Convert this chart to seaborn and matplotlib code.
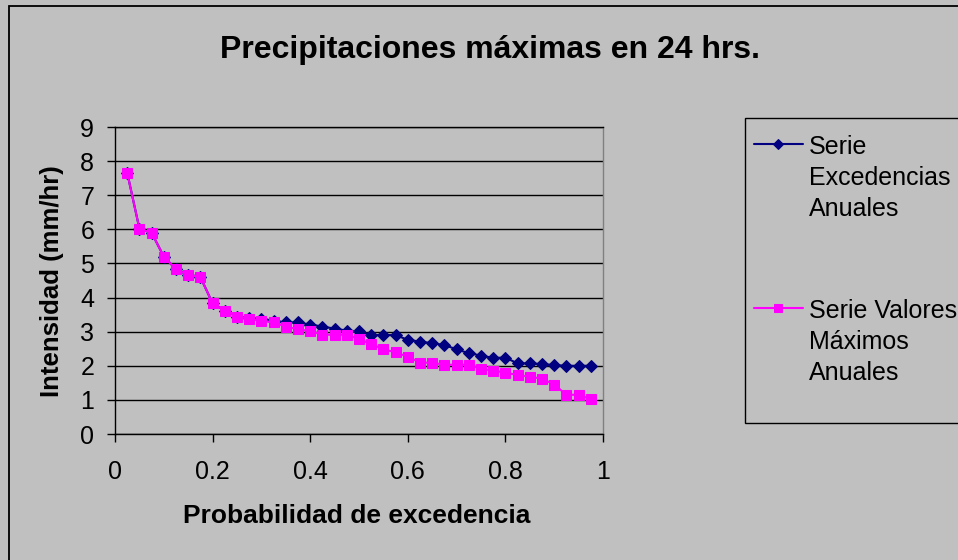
import numpy as np
import pandas as pd
import matplotlib
matplotlib.use("Agg")
import matplotlib.pyplot as plt
from matplotlib.patches import Rectangle
import seaborn as sns

# ---------------- data ----------------
prob = [0.025, 0.05, 0.075, 0.1, 0.125, 0.15, 0.175, 0.2, 0.225, 0.25,
        0.275, 0.3, 0.325, 0.35, 0.375, 0.4, 0.425, 0.45, 0.475, 0.5,
        0.525, 0.55, 0.575, 0.6, 0.625, 0.65, 0.675, 0.7, 0.725, 0.75,
        0.775, 0.8, 0.825, 0.85, 0.875, 0.9, 0.925, 0.95, 0.975]

excedencias = [7.66, 6.02, 5.90, 5.20, 4.83, 4.66, 4.60, 3.83, 3.62, 3.44,
               3.40, 3.38, 3.32, 3.27, 3.27, 3.21, 3.15, 3.09, 3.03, 3.01,
               2.90, 2.90, 2.90, 2.76, 2.71, 2.66, 2.61, 2.48, 2.37, 2.30,
               2.23, 2.24, 2.07, 2.07, 2.05, 2.02, 2.00, 2.00, 2.00]

maximos = [7.66, 6.02, 5.90, 5.20, 4.83, 4.66, 4.60, 3.83, 3.62, 3.44,
           3.38, 3.32, 3.27, 3.15, 3.07, 3.02, 2.91, 2.91, 2.91, 2.79,
           2.63, 2.49, 2.39, 2.27, 2.09, 2.09, 2.03, 2.03, 2.03, 1.91,
           1.86, 1.80, 1.73, 1.68, 1.62, 1.45, 1.15, 1.15, 1.02]

series_labels = ["Serie\nExcedencias\nAnuales", "Serie Valores\nMáximos\nAnuales"]
x_ticks = [0, 0.2, 0.4, 0.6, 0.8, 1]
x_tick_labels = ["0", "0.2", "0.4", "0.6", "0.8", "1"]
y_ticks = [0, 1, 2, 3, 4, 5, 6, 7, 8, 9]

title = "Precipitaciones máximas en 24 hrs."
xlabel = "Probabilidad de excedencia"
ylabel = "Intensidad (mm/hr)"

# ---------------- style ----------------
sns.set_style("white")
plt.rcParams["font.family"] = ["Liberation Sans", "DejaVu Sans"]
plt.rcParams["text.color"] = "black"
BG = "#C0C0C0"

W, H = 958, 560
fig = plt.figure(figsize=(W / 100, H / 100), dpi=100, facecolor=BG)

# chart-area border (extends beyond right/bottom edges like the reference)
fig.patches.append(Rectangle((9 / W, -0.2), 1.2, (H - 6) / H + 0.2,
                             transform=fig.transFigure, facecolor="none",
                             edgecolor="black", linewidth=1.3, zorder=-2))
# legend box (Excel style, clipped by the right edge)
fig.patches.append(Rectangle((745 / W, 1 - 423 / H), 0.5, (423 - 118) / H,
                             transform=fig.transFigure, facecolor=BG,
                             edgecolor="black", linewidth=1, zorder=-1))

ax = fig.add_axes([115 / W, 1 - 434 / H, (603 - 115) / W, (434 - 127) / H])
ax.set_facecolor(BG)

sns.lineplot(x=prob, y=excedencias, ax=ax, color="#000080", marker="D",
             markersize=6, markeredgecolor="#000080", linewidth=1.5,
             label=series_labels[0], zorder=3)
sns.lineplot(x=prob, y=maximos, ax=ax, color="#FF00FF", marker="s",
             markersize=6.5, markeredgecolor="#FF00FF", linewidth=1.5,
             label=series_labels[1], zorder=4)

ax.set_xlim(0, 1)
ax.set_ylim(0, 9)
ax.set_xticks(x_ticks)
ax.set_xticklabels(x_tick_labels)
ax.set_yticks(y_ticks)
ax.yaxis.grid(True, color="black", linewidth=1)
ax.xaxis.grid(False)
ax.set_axisbelow(True)

for side in ["left", "bottom", "top"]:
    ax.spines[side].set_color("black")
    ax.spines[side].set_linewidth(1)
ax.spines["right"].set_color("#808080")
ax.spines["right"].set_linewidth(1)

ax.tick_params(axis="both", direction="out", length=6, width=1,
               color="black", labelsize=18, labelcolor="black")
ax.tick_params(axis="x", pad=13, bottom=True)
ax.tick_params(axis="y", pad=9, left=True)

fig.text(490 / W, 1 - 58 / H, title, ha="center", va="baseline",
         fontsize=23, fontweight="bold", color="black")

ax.set_xlabel(xlabel, fontsize=19, fontweight="bold", color="black")
ax.xaxis.label.set_va("baseline")
ax.xaxis.set_label_coords((357 - 115) / 488, -(523 - 434) / 307)
ax.set_ylabel(ylabel, fontsize=18.5, fontweight="bold", color="black")
ax.yaxis.label.set_va("center")
ax.yaxis.set_label_coords((52 - 115) / 488, (434 - 281) / 307)

leg = ax.legend(loc="upper left", bbox_to_anchor=(754 / W, 1 - 135 / H),
                bbox_transform=fig.transFigure, frameon=False, fontsize=18,
                handlelength=1.95, handletextpad=0.25, borderpad=0,
                borderaxespad=0, labelspacing=3.1, markerscale=0.85,
                labelcolor="black")
# align each handle with the first line of its (multi-line) label
for col in leg._legend_handle_box.get_children():
    for row in col.get_children():
        row.align = "top"
for t in leg.get_texts():
    t.set_linespacing(1.38)

fig.savefig("out.png", dpi=100, facecolor=BG)
